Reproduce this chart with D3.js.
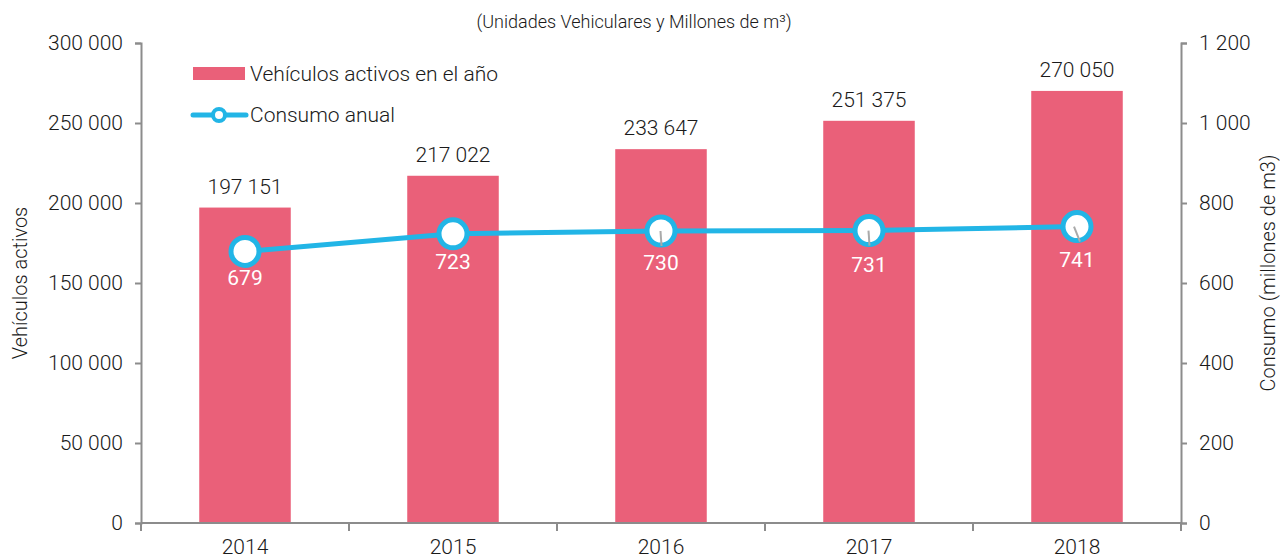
<!DOCTYPE html>
<html>
<head>
<meta charset="utf-8">
<script src="https://cdn.jsdelivr.net/npm/d3@7/dist/d3.min.js"></script>
<style>
  body { margin: 0; background: #fff; }
  svg text { font-family: Roboto, "Open Sans", sans-serif; font-weight: 300; fill: #1a1a1a; }
</style>
</head>
<body>
<svg></svg>
<script>
var years = ['2014', '2015', '2016', '2017', '2018'];
var vehiculos = [197151, 217022, 233647, 251375, 270050];
var consumo = [679, 723, 730, 731, 741];
var leftTicks = [0, 50000, 100000, 150000, 200000, 250000, 300000];
var rightTicks = [0, 200, 400, 600, 800, 1000, 1200];

var width = 1280;
var height = 559;
var margin = {left: 141, right: 99, top: 43, bottom: 36};
var plotW = width - margin.left - margin.right;
var plotH = height - margin.top - margin.bottom;
var barColor = '#ea6079';
var lineColor = '#22b5e6';
var axisColor = '#8c8c8c';

var fmt = d3.formatLocale({decimal: ',', thousands: ' ', grouping: [3], currency: ['', '']}).format(',d');

var svg = d3.select('svg')
    .attr('width', width)
    .attr('height', height);

var xScale = d3.scaleBand()
    .domain(years)
    .range([0, plotW])
    .paddingInner(0.56)
    .paddingOuter(0.28);
var band = plotW / years.length;
var yLeft = d3.scaleLinear().domain([0, 300000]).range([plotH, 0]);
var yRight = d3.scaleLinear().domain([0, 1200]).range([plotH, 0]);

var g = svg.append('g')
    .attr('transform', `translate(${margin.left},${margin.top})`);

// title
svg.append('text')
    .attr('x', 634)
    .attr('y', 28)
    .attr('text-anchor', 'middle')
    .attr('font-size', 18)
    .text('(Unidades Vehiculares y Millones de m\u00b3)');

// bars
g.selectAll('rect.bar')
    .data(years)
    .enter().append('rect')
    .attr('class', 'bar')
    .attr('x', d => xScale(d))
    .attr('width', xScale.bandwidth())
    .attr('y', (d, i) => yLeft(vehiculos[i]))
    .attr('height', (d, i) => plotH - yLeft(vehiculos[i]))
    .attr('fill', barColor);

g.selectAll('text.barlabel')
    .data(years)
    .enter().append('text')
    .attr('class', 'barlabel')
    .attr('x', d => xScale(d) + xScale.bandwidth() / 2)
    .attr('y', (d, i) => yLeft(vehiculos[i]) - 14)
    .attr('text-anchor', 'middle')
    .attr('font-size', 21)
    .text((d, i) => fmt(vehiculos[i]));

// axes
var leftAxis = g.append('g')
    .call(d3.axisLeft(yLeft).tickValues(leftTicks).tickSize(6).tickPadding(12).tickFormat(fmt));
var rightAxis = g.append('g')
    .attr('transform', `translate(${plotW},0)`)
    .call(d3.axisRight(yRight).tickValues(rightTicks).tickSize(6).tickPadding(12).tickFormat(fmt));

var bottomAxis = g.append('g')
    .attr('transform', `translate(0,${plotH})`);
bottomAxis.append('line')
    .attr('x1', 0).attr('x2', plotW)
    .attr('stroke', axisColor).attr('stroke-width', 2);
bottomAxis.selectAll('line.tick')
    .data(d3.range(years.length + 1))
    .enter().append('line')
    .attr('class', 'tick')
    .attr('x1', i => i * band).attr('x2', i => i * band)
    .attr('y1', 0).attr('y2', 8)
    .attr('stroke', axisColor).attr('stroke-width', 2);
bottomAxis.selectAll('text')
    .data(years)
    .enter().append('text')
    .attr('x', d => xScale(d) + xScale.bandwidth() / 2)
    .attr('y', 31)
    .attr('text-anchor', 'middle')
    .attr('font-size', 21)
    .text(d => d);

[leftAxis, rightAxis].forEach(a => {
    a.select('.domain').attr('stroke', axisColor).attr('stroke-width', 2);
    a.selectAll('.tick line').attr('stroke', axisColor).attr('stroke-width', 2);
    a.selectAll('.tick text').attr('font-size', 21).attr('fill', '#1a1a1a')
        .style('font-family', 'Roboto, sans-serif').style('font-weight', 300);
});

// axis titles
svg.append('text')
    .attr('transform', `translate(27,${margin.top + plotH / 2}) rotate(-90)`)
    .attr('text-anchor', 'middle')
    .attr('font-size', 20)
    .text('Vehículos activos');
svg.append('text')
    .attr('transform', `translate(1275,${margin.top + plotH / 2 - 10}) rotate(-90)`)
    .attr('text-anchor', 'middle')
    .attr('font-size', 20)
    .text('Consumo (millones de m3)');

// line
var cx = d => xScale(d) + xScale.bandwidth() / 2;
var line = d3.line()
    .x((d, i) => cx(years[i]))
    .y(d => yRight(d));
g.append('path')
    .datum(consumo)
    .attr('d', line)
    .attr('fill', 'none')
    .attr('stroke', lineColor)
    .attr('stroke-width', 5);

g.selectAll('circle.pt')
    .data(consumo)
    .enter().append('circle')
    .attr('class', 'pt')
    .attr('cx', (d, i) => cx(years[i]))
    .attr('cy', d => yRight(d))
    .attr('r', 14)
    .attr('fill', '#fff')
    .attr('stroke', lineColor)
    .attr('stroke-width', 5);

// small grey leader lines from the label to the marker
var leaderDx = [null, null, 1, 1, 6];
consumo.forEach((d, i) => {
    if (leaderDx[i] == null) return;
    g.append('line')
        .attr('x1', cx(years[i]) - leaderDx[i] / 2)
        .attr('y1', yRight(d))
        .attr('x2', cx(years[i]) + leaderDx[i] / 2)
        .attr('y2', yRight(d) + 15)
        .attr('stroke', '#aaa')
        .attr('stroke-width', 2);
});

var labelOffsets = [34, 35, 39, 41, 40];
g.selectAll('text.ptlabel')
    .data(consumo)
    .enter().append('text')
    .attr('class', 'ptlabel')
    .attr('x', (d, i) => cx(years[i]))
    .attr('y', (d, i) => yRight(d) + labelOffsets[i])
    .attr('text-anchor', 'middle')
    .attr('font-size', 21)
    .style('fill', '#fff')
    .style('font-weight', 400)
    .text(d => d);

// legend
var legend = svg.append('g');
legend.append('rect')
    .attr('x', 193).attr('y', 67)
    .attr('width', 52).attr('height', 13)
    .attr('fill', barColor);
legend.append('text')
    .attr('x', 250).attr('y', 81)
    .attr('font-size', 21)
    .text('Vehículos activos en el año');
legend.append('line')
    .attr('x1', 193).attr('x2', 246)
    .attr('y1', 115).attr('y2', 115)
    .attr('stroke', lineColor).attr('stroke-width', 5)
    .attr('stroke-linecap', 'round');
legend.append('circle')
    .attr('cx', 219).attr('cy', 115)
    .attr('r', 6)
    .attr('fill', '#fff')
    .attr('stroke', lineColor).attr('stroke-width', 4);
legend.append('text')
    .attr('x', 250).attr('y', 122)
    .attr('font-size', 21)
    .text('Consumo anual');
</script>
</body>
</html>
